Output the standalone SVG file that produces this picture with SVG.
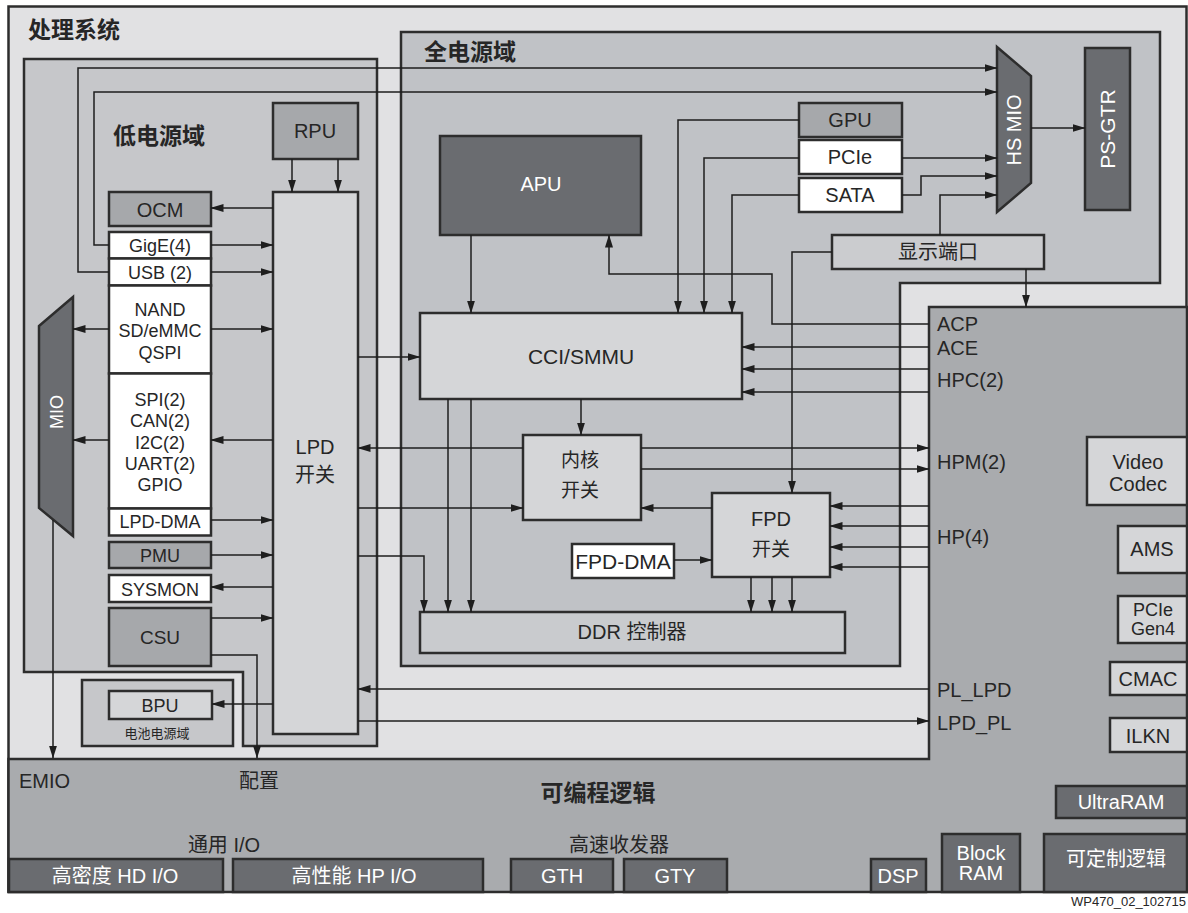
<svg xmlns="http://www.w3.org/2000/svg" width="1188" height="913" viewBox="0 0 1188 913">
<style>
.b{stroke:#2d2d2d;stroke-width:2.5}
.lt{fill:#d5d6d8}
.md{fill:#a6a8ab}
.dk{fill:#6a6c70}
.wh{fill:#ffffff}
.t{font-family:"Liberation Sans",Arial,"Noto Sans CJK SC",sans-serif;font-size:20px;fill:#262626;text-anchor:middle}
.s18{font-size:18px}
.w{fill:#ffffff}
.l{text-anchor:start}
.h{font-weight:bold;font-size:23px;text-anchor:start}
.c{fill:none;stroke:#1e1e1e;stroke-width:1.5}
</style>
<defs>
<marker id="a" markerUnits="userSpaceOnUse" markerWidth="13" markerHeight="8" refX="12.5" refY="4" orient="auto">
<path d="M0,0 L13,4 L0,8 z" fill="#1e1e1e"/>
</marker>
</defs>

<g id="ps">
<rect x="8.5" y="6.5" width="1178" height="885" fill="#e1e1e3" class="b"/>
<text class="t h" x="28" y="38">处理系统</text>
</g>
<g id="pl">
<polygon points="929,307 1187,307 1187,892 8.5,892 8.5,759 929,759" fill="#a9abae" class="b"/>
<text class="t" x="598" y="801" style="font-weight:bold;font-size:23px">可编程逻辑</text>
<text class="t l" x="19" y="788">EMIO</text>
<text class="t l" x="239" y="788">配置</text>
<text class="t" x="224" y="852">通用 I/O</text>
<text class="t" x="619" y="852">高速收发器</text>
<text class="t l" x="937" y="331">ACP</text>
<text class="t l" x="937" y="355">ACE</text>
<text class="t l" x="937" y="387">HPC(2)</text>
<text class="t l" x="937" y="469">HPM(2)</text>
<text class="t l" x="937" y="544">HP(4)</text>
<text class="t l" x="937" y="697">PL_LPD</text>
<text class="t l" x="937" y="730">LPD_PL</text>
</g>
<g id="lpd-domain">
<polygon points="24,59 377,59 377,746 243,746 243,672 24,672" fill="#c6c7ca" class="b"/>
<text class="t h" x="113" y="144">低电源域</text>
</g>
<g id="fpd-domain">
<polygon points="401,32 1160,32 1160,283 900,283 900,666 401,666" fill="#c0c2c6" class="b"/>
<text class="t h" x="424" y="60">全电源域</text>
</g>
<g id="battery-domain">
<rect x="82" y="680" width="151" height="66" fill="#c6c7ca" class="b"/>
<text class="t" x="157" y="738" style="font-size:13px">电池电源域</text>
</g>

<g id="rpu"><rect x="273" y="103" width="85" height="56" class="b md"/><text class="t" x="315" y="138">RPU</text></g>
<g id="lpd-switch"><rect x="273" y="192" width="85" height="542" class="b lt"/><text class="t" x="315" y="454">LPD</text><text class="t" x="315" y="482">开关</text></g>
<g id="ocm"><rect x="109" y="192" width="102" height="34" class="b md"/><text class="t" x="160" y="217">OCM</text></g>
<g id="gige"><rect x="109" y="232" width="102" height="26.5" class="b wh"/><text class="t s18" x="160" y="252">GigE(4)</text></g>
<g id="usb"><rect x="109" y="258.5" width="102" height="27" class="b wh"/><text class="t s18" x="160" y="279">USB (2)</text></g>
<g id="nand"><rect x="109" y="285.5" width="102" height="88" class="b wh"/><text class="t s18" x="160" y="315.5">NAND</text><text class="t s18" x="160" y="336.5">SD/eMMC</text><text class="t s18" x="160" y="358.5">QSPI</text></g>
<g id="spi"><rect x="109" y="373.5" width="102" height="135" class="b wh"/><text class="t s18" x="160" y="405.5">SPI(2)</text><text class="t s18" x="160" y="427">CAN(2)</text><text class="t s18" x="160" y="448.5">I2C(2)</text><text class="t s18" x="160" y="469.5">UART(2)</text><text class="t s18" x="160" y="490.5">GPIO</text></g>
<g id="lpd-dma"><rect x="109" y="508.5" width="102" height="27" class="b wh"/><text class="t s18" x="160" y="528">LPD-DMA</text></g>
<g id="pmu"><rect x="109" y="542" width="102" height="26" class="b md"/><text class="t s18" x="160" y="561.5">PMU</text></g>
<g id="sysmon"><rect x="109" y="575" width="102" height="27" class="b wh"/><text class="t s18" x="160" y="595.5">SYSMON</text></g>
<g id="csu"><rect x="109" y="608" width="102" height="58" class="b md"/><text class="t" x="160" y="644" style="font-size:19px">CSU</text></g>
<g id="bpu"><rect x="109" y="691" width="103" height="28" class="b lt"/><text class="t s18" x="160" y="712">BPU</text></g>
<g id="mio"><polygon points="39,326 73,297 73,536 39,508" class="b dk"/><text class="t s18 w" transform="translate(56,412) rotate(-90)" y="6.5">MIO</text></g>

<g id="apu"><rect x="440" y="136" width="201" height="99" class="b dk"/><text class="t w" x="541" y="191">APU</text></g>
<g id="cci"><rect x="420" y="313" width="322" height="86" class="b lt"/><text class="t" x="581" y="364" style="font-size:21px">CCI/SMMU</text></g>
<g id="core-switch"><rect x="523" y="435" width="118" height="85" class="b lt"/><text class="t" x="580" y="467" style="font-size:19px">内核</text><text class="t" x="580" y="497" style="font-size:19px">开关</text></g>
<g id="fpd-switch"><rect x="712" y="493" width="118" height="84" class="b lt"/><text class="t" x="771" y="526">FPD</text><text class="t" x="771" y="556" style="font-size:19px">开关</text></g>
<g id="fpd-dma"><rect x="572" y="544" width="102" height="34" class="b wh"/><text class="t" x="623" y="569" style="font-size:21px">FPD-DMA</text></g>
<g id="ddr"><rect x="420" y="612" width="425" height="41" fill="#c9cbce" class="b"/><text class="t" x="632" y="639">DDR 控制器</text></g>
<g id="gpu"><rect x="799" y="103" width="103" height="34" class="b md"/><text class="t" x="850" y="127">GPU</text></g>
<g id="pcie"><rect x="799" y="140" width="103" height="34" class="b wh"/><text class="t" x="850" y="164">PCIe</text></g>
<g id="sata"><rect x="799" y="178" width="103" height="34" class="b wh"/><text class="t" x="850" y="202">SATA</text></g>
<g id="displayport"><rect x="832" y="235" width="212" height="34" fill="#cbcccf" class="b"/><text class="t" x="938" y="259">显示端口</text></g>
<g id="hs-mio"><polygon points="997,47 1031,76 1031,183 997,212" class="b dk"/><text class="t w" transform="translate(1014,130) rotate(-90)" y="7">HS MIO</text></g>
<g id="ps-gtr"><rect x="1085" y="48" width="45" height="162" class="b dk"/><text class="t w" transform="translate(1107.5,129) rotate(-90)" y="7.5" style="font-size:21px">PS-GTR</text></g>

<g id="video-codec"><rect x="1087" y="437" width="100" height="68" class="b lt"/><text class="t" x="1138" y="469">Video</text><text class="t" x="1138" y="491">Codec</text></g>
<g id="ams"><rect x="1118" y="526" width="69" height="47" class="b lt"/><text class="t" x="1152" y="556">AMS</text></g>
<g id="pcie-gen4"><rect x="1118" y="596" width="69" height="47" class="b lt"/><text class="t" x="1153" y="616" style="font-size:18px">PCIe</text><text class="t" x="1153" y="635" style="font-size:18px">Gen4</text></g>
<g id="cmac"><rect x="1110" y="662" width="77" height="33" class="b lt"/><text class="t" x="1148" y="686">CMAC</text></g>
<g id="ilkn"><rect x="1110" y="718" width="77" height="34" class="b lt"/><text class="t" x="1148" y="743">ILKN</text></g>
<g id="ultraram"><rect x="1056" y="786" width="131" height="32" class="b dk"/><text class="t w" x="1121" y="809">UltraRAM</text></g>
<g id="custom-logic"><rect x="1044" y="834" width="143" height="58" class="b dk"/><text class="t w" x="1116" y="866">可定制逻辑</text></g>
<g id="block-ram"><rect x="942" y="834" width="78" height="58" class="b dk"/><text class="t w" x="981" y="860">Block</text><text class="t w" x="981" y="880">RAM</text></g>
<g id="dsp"><rect x="871" y="859" width="55" height="33" class="b dk"/><text class="t w" x="898" y="883">DSP</text></g>
<g id="gty"><rect x="624" y="859" width="103" height="33" class="b dk"/><text class="t w" x="675" y="883">GTY</text></g>
<g id="gth"><rect x="511" y="859" width="102" height="33" class="b dk"/><text class="t w" x="562" y="883">GTH</text></g>
<g id="hp-io"><rect x="233" y="859" width="250" height="33" class="b dk"/><text class="t w" x="354" y="883">高性能 HP I/O</text></g>
<g id="hd-io"><rect x="9" y="859" width="214" height="33" class="b dk"/><text class="t w" x="115" y="883">高密度 HD I/O</text></g>

<g id="connectors" class="c" marker-end="url(#a)">
<path d="M292,159 V192"/>
<path d="M338,159 V192"/>
<path d="M273,208 H211"/>
<path d="M211,245 H273"/>
<path d="M211,272 H273"/>
<path d="M109,245 H94 V92 H997"/>
<path d="M109,272 H78 V68 H997"/>
<path d="M109,329 H73"/>
<path d="M211,329 H273"/>
<path d="M109,440 H73"/>
<path d="M273,440 H211"/>
<path d="M211,520 H273"/>
<path d="M211,555 H273"/>
<path d="M273,587 H211"/>
<path d="M211,618 H273"/>
<path d="M211,655 H257 V758"/>
<path d="M53,520 V758"/>
<path d="M273,704 H212"/>
<path d="M929,689 H358"/>
<path d="M358,721 H929"/>
<path d="M358,357 H420"/>
<path d="M523,448 H358"/>
<path d="M358,508 H523"/>
<path d="M358,556 H424 V612"/>
<path d="M471,235 V313"/>
<path d="M929,324 H772 V274 H609 V235"/>
<path d="M799,120 H678 V313"/>
<path d="M799,158 H704 V313"/>
<path d="M799,195 H732 V313"/>
<path d="M902,158 H997"/>
<path d="M902,195 H921 V176 H997"/>
<path d="M940,235 V195 H997"/>
<path d="M1031,128 H1085"/>
<path d="M832,252 H792 V493"/>
<path d="M1026,269 V307"/>
<path d="M929,347 H742"/>
<path d="M929,369 H742"/>
<path d="M929,392 H742"/>
<path d="M581,399 V435"/>
<path d="M641,448 H929"/>
<path d="M641,469 H929"/>
<path d="M712,508 H641"/>
<path d="M674,560 H712"/>
<path d="M929,506 H830"/>
<path d="M929,526 H830"/>
<path d="M929,547 H830"/>
<path d="M929,567 H830"/>
<path d="M751,577 V612"/>
<path d="M772,577 V612"/>
<path d="M792,577 V612"/>
<path d="M448,399 V612"/>
<path d="M471,399 V612"/>
</g>
<text class="t" x="1186" y="906" style="font-size:13px;text-anchor:end">WP470_02_102715</text>
</svg>
